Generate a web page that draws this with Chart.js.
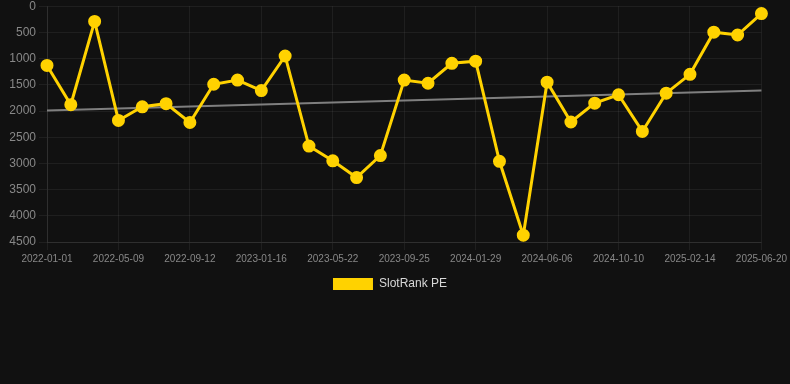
<!DOCTYPE html>
<html>
<head>
<meta charset="utf-8">
<script src="https://cdn.jsdelivr.net/npm/chart.js@4/dist/chart.umd.min.js"></script>
<style>
  html, body { margin: 0; padding: 0; background: #111111; overflow: hidden; }
  #wrap { position: relative; width: 790px; height: 304px; margin-top: -4px; }
</style>
</head>
<body>
<div id="wrap"><canvas id="c"></canvas></div>
<script>
const dates = [
  "2022-01-01","2022-02-13","2022-03-27","2022-05-09","2022-06-20","2022-08-01",
  "2022-09-12","2022-10-24","2022-12-05","2023-01-16","2023-02-27","2023-04-10",
  "2023-05-22","2023-07-03","2023-08-14","2023-09-25","2023-11-06","2023-12-18",
  "2024-01-29","2024-03-12","2024-04-24","2024-06-06","2024-07-18","2024-08-29",
  "2024-10-10","2024-11-22","2025-01-03","2025-02-14","2025-03-28","2025-05-09",
  "2025-06-20"
];
const slotRankPE = [
  1130, 1880, 290, 2180, 1920, 1860, 2220, 1490, 1410, 1610, 950,
  2670, 2950, 3270, 2850, 1410, 1470, 1090, 1050, 2960, 4370,
  1450, 2210, 1850, 1690, 2390, 1660, 1300, 495, 550, 140
];
const trendStart = 1990;
const trendEnd = 1610;
const yTicks = [0, 500, 1000, 1500, 2000, 2500, 3000, 3500, 4000, 4500];

const trend = dates.map((d, i) => i === 0 ? trendStart : (i === dates.length - 1 ? trendEnd : null));

Chart.defaults.font.family = "'Liberation Sans', Arial, sans-serif";

new Chart(document.getElementById('c'), {
  type: 'line',
  data: {
    labels: dates,
    datasets: [
      {
        label: 'SlotRank PE',
        data: slotRankPE,
        borderColor: '#ffd200',
        backgroundColor: '#ffd200',
        borderWidth: 3,
        pointRadius: 5,
        pointHoverRadius: 5,
        pointBackgroundColor: '#ffd200',
        pointBorderColor: '#ffd200',
        tension: 0,
        order: 1
      },
      {
        label: 'Trend',
        data: trend,
        spanGaps: true,
        borderColor: 'rgba(140,140,140,0.9)',
        backgroundColor: 'rgba(140,140,140,0.9)',
        borderWidth: 2,
        pointRadius: 0,
        tension: 0,
        order: 2
      }
    ]
  },
  options: {
    responsive: true,
    maintainAspectRatio: false,
    animation: false,
    layout: { padding: { right: 10, left: 0, top: 0 } },
    plugins: {
      tooltip: { enabled: false },
      legend: {
        position: 'bottom',
        labels: {
          color: '#d8d8d8',
          font: { size: 12 },
          boxWidth: 40,
          boxHeight: 12,
          filter: (item) => item.text === 'SlotRank PE',
          generateLabels: (chart) => {
            const items = Chart.defaults.plugins.legend.labels.generateLabels(chart);
            items.forEach(it => { it.lineWidth = 0; it.strokeStyle = 'rgba(0,0,0,0)'; });
            return items;
          }
        }
      }
    },
    scales: {
      x: {
        type: 'category',
        offset: false,
        grid: { color: 'rgba(255,255,255,0.06)', drawTicks: true, tickLength: 8 },
        border: { color: 'rgba(255,255,255,0.08)' },
        ticks: {
          color: '#888888',
          font: { size: 10 },
          autoSkip: false,
          maxRotation: 0,
          minRotation: 0,
          callback: function(val, idx) { return idx % 3 === 0 ? dates[idx] : null; }
        }
      },
      y: {
        reverse: true,
        min: yTicks[0],
        max: yTicks[yTicks.length - 1],
        grid: { color: 'rgba(255,255,255,0.06)', tickLength: 8 },
        border: { color: 'rgba(255,255,255,0.08)' },
        afterBuildTicks: (axis) => { axis.ticks = yTicks.map(v => ({ value: v })); },
        afterFit: (axis) => { axis.width = 47; },
        ticks: {
          color: '#888888',
          font: { size: 12 },
          callback: (v) => String(v)
        }
      },
      ySpacer: {
        position: 'right',
        display: true,
        min: 0,
        max: 1,
        grid: { display: false, drawOnChartArea: false },
        border: { display: false },
        ticks: { display: false },
        afterFit: (axis) => { axis.width = 18; }
      }
    }
  }
});
</script>
</body>
</html>
